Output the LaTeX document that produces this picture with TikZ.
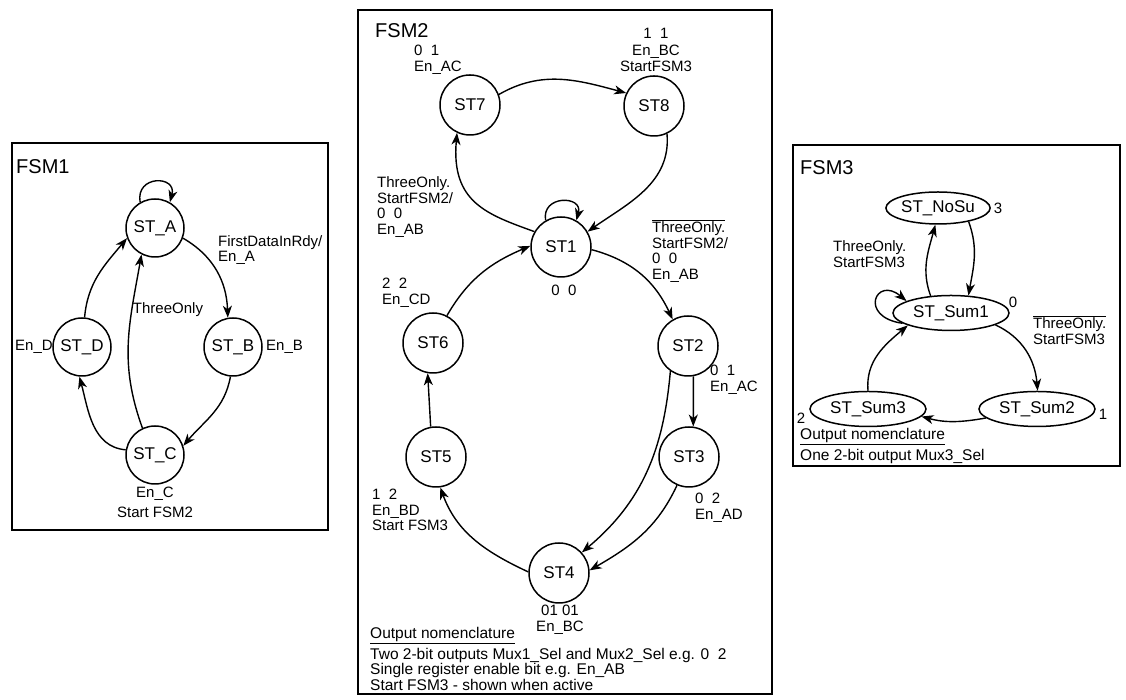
\documentclass[tikz,border=0pt]{standalone}
\usepackage{fontspec}
\setmainfont{Liberation Sans}
\usetikzlibrary{arrows.meta,shapes.geometric}
\begin{document}
\begin{tikzpicture}[x=1pt,y=1pt,
  state/.style={circle,draw,line width=1.5pt,minimum size=60pt,inner sep=0pt,font=\fontsize{17}{20}\selectfont},
  smallstate/.style={state,minimum size=58pt},
  est/.style={ellipse,draw,line width=1.5pt,minimum width=116pt,minimum height=35pt,inner sep=0pt,font=\fontsize{17}{20}\selectfont},
  lbl/.style={font=\fontsize{15}{15.5}\selectfont,align=left,inner sep=0pt,anchor=west},
  nom/.style={font=\fontsize{15.5}{13.5}\selectfont,align=left,inner sep=0pt,anchor=west},
  ttl/.style={font=\fontsize{20}{22}\selectfont,anchor=west,inner sep=0pt},
  tr/.style={line width=1.4pt,-{Stealth[length=12pt,width=9pt,inset=3.5pt]}},
  frame/.style={draw,line width=1.6pt}]
\useasboundingbox (0,0) rectangle (1126,700);

% ---------------- FSM1 ----------------
\draw[frame] (12,170) rectangle (328,557);
\node[ttl] (t1) at (16,533) {FSM1};
\node[smallstate] (A) at (155,472) {ST\_A};
\node[smallstate] (B) at (233,353) {ST\_B};
\node[smallstate] (C) at (155,245) {ST\_C};
\node[smallstate] (D) at (82,353) {ST\_D};
\draw[tr] (A.120) .. controls +(100:28) and +(75:28) .. (A.60);
\draw[tr] (A.-20) to[out=-30,in=92] (B.100);
\draw[tr] (B.-95) to[out=-100,in=50] (C.18);
\draw[tr] (C.170) to[out=175,in=-75] (D.-95);
\draw[tr] (D.85) to[out=85,in=-130] (A.-160);
\draw[tr] (C.115) .. controls +(110:70) and +(-100:70) .. (A.-117);
\node[lbl] (lA) at (218,450) {FirstDataInRdy/\\En\_A};
\node[lbl,anchor=center] (lT) at (168,390) {ThreeOnly};
\node[lbl] (lD) at (15,353) {En\_D};
\node[lbl] (lB) at (266,353) {En\_B};
\node[lbl,anchor=center,align=center,font=\fontsize{15}{20}\selectfont] (lC) at (155,198) {En\_C\\Start FSM2};

% ---------------- FSM2 ----------------
\draw[frame] (358,6) rectangle (772,690);
\node[ttl] (t2) at (375,669) {FSM2};
\node[state] (S1) at (561,453) {ST1};
\node[state] (S2) at (688,354) {ST2};
\node[state] (S3) at (689,243) {ST3};
\node[state] (S4) at (559,127) {ST4};
\node[state] (S5) at (436,243) {ST5};
\node[state] (S6) at (433,357) {ST6};
\node[state] (S7) at (470,595) {ST7};
\node[state] (S8) at (654,594) {ST8};
\draw[tr] (S7.20) to[out=30,in=165] (S8.155);
\draw[tr] (S8.-65) to[out=-85,in=35] (S1.30);
\draw[tr] (S1.150) .. controls +(160:50) and +(-95:70) .. (S7.-115);
\draw[tr] (S1.120) .. controls +(100:26) and +(75:26) .. (S1.60);
\draw[tr] (S1.-5) to[out=-15,in=115] (S2.120);
\draw[tr] (S2.-80) -- (S3.82);
\draw[tr] (S2.-125) to[out=-95,in=40] (S4.42);
\draw[tr] (S3.-113) to[out=-115,in=30] (S4.5);
\draw[tr] (S4.178) to[out=155,in=-70] (S5.-82);
\draw[tr] (S5.100) -- (S6.-100);
\draw[tr] (S6.63) to[out=60,in=-157] (S1.178);
\node[lbl] (l7) at (414,640) {0~~1\\En\_AC};
\node[lbl,anchor=center,align=center,font=\fontsize{15}{16.5}\selectfont] (l8) at (656,650) {1~~1\\En\_BC\\StartFSM3};
\node[lbl] (l1a) at (377,493) {ThreeOnly.\\StartFSM2/\\0~~0\\En\_AB};
\node[lbl] (l1b) at (652,449) {$\overline{\mbox{ThreeOnly.}}$\\StartFSM2/\\0~~0\\En\_AB};
\node[lbl,anchor=center] (l1c) at (564,410) {0~~0};
\node[lbl] (l2) at (710,320) {0~~1\\En\_AC};
\node[lbl] (l3) at (695,192) {0~~2\\En\_AD};
\node[lbl,anchor=center,align=center] (l4) at (560,80) {01~01\\En\_BC};
\node[lbl] (l5) at (372,190) {1~~2\\En\_BD\\Start FSM3};
\node[lbl] (l6) at (382,407) {2~~2\\En\_CD};
\node[nom] (n2) at (370,41) {\underline{Output nomenclature}\\[3pt]Two 2-bit outputs Mux1\_Sel and Mux2\_Sel e.g. 0~~2\\Single register enable bit e.g. En\_AB\\Start FSM3 - shown when active};

% ---------------- FSM3 ----------------
\draw[frame] (793,234) rectangle (1120,555);
\node[ttl] (t3) at (800,532) {FSM3};
\node[est,minimum width=86pt,minimum height=32pt] (N0) at (938,492) {ST\_NoSu};
\node[est] (M1) at (951,387) {ST\_Sum1};
\node[est] (M2) at (1037,291) {ST\_Sum2};
\node[est] (M3) at (868,291) {ST\_Sum3};
\draw[tr] (M1.140) to[out=110,in=-105] (N0.-99);
\draw[tr] (N0.-24) to[out=-70,in=80] (M1.45);
\draw[tr] (M1.192) .. controls +(172:45) and +(140:40) .. (M1.165);
\draw[tr] (M1.-15) to[out=-25,in=95] (M2.88);
\draw[tr] (M2.190) to[out=190,in=-15] (M3.-8);
\draw[tr] (M3.90) to[out=95,in=-140] (M1.196);
\node[lbl,anchor=center] (k3) at (998,492) {3};
\node[lbl,anchor=center] (k0) at (1013,398) {0};
\node[lbl,anchor=center] (k2) at (801,282) {2};
\node[lbl,anchor=center] (k1) at (1103,286) {1};
\node[lbl] (m1) at (833,446) {ThreeOnly.\\StartFSM3};
\node[lbl] (m2) at (1033,370) {$\overline{\mbox{ThreeOnly.}}$\\StartFSM3};
\node[nom] (n3) at (800,254) {\underline{Output nomenclature}\\[3pt]One 2-bit output Mux3\_Sel};
\end{tikzpicture}
\end{document}
